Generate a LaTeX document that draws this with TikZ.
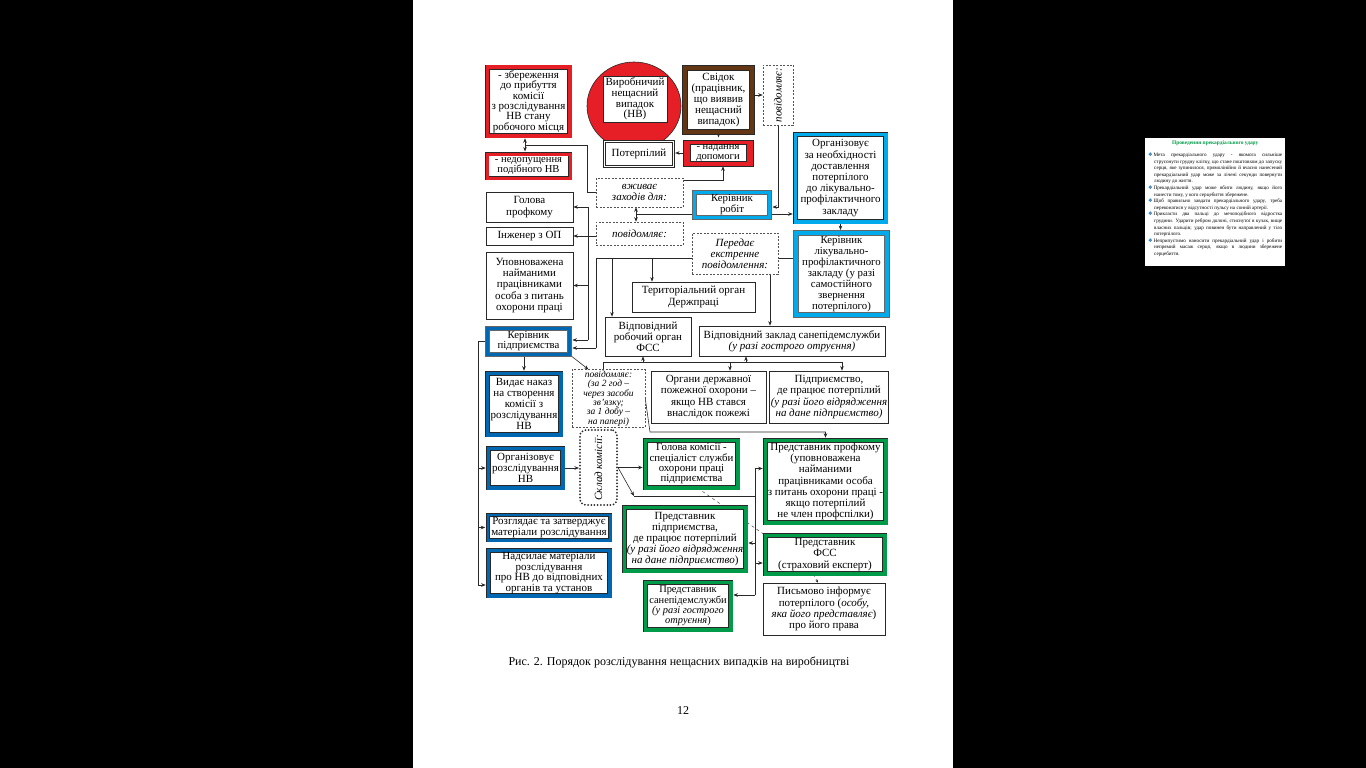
\documentclass[tikz,border=0pt]{standalone}
\usepackage{fontspec}
\setmainfont{Liberation Serif}
\newfontfamily\dejavu{DejaVu Sans}
\usepackage{graphicx}
\usetikzlibrary{arrows.meta,shapes.geometric}
\pgfdeclarelayer{back}
\pgfdeclarelayer{bg}
\pgfsetlayers{back,bg,main}
\definecolor{cred}{RGB}{230,30,37}
\definecolor{cbrown}{RGB}{100,55,20}
\definecolor{ccyan}{RGB}{0,170,235}
\definecolor{cblue}{RGB}{0,103,178}
\definecolor{cgreen}{RGB}{0,155,72}
\definecolor{cline}{RGB}{40,40,40}
\newcommand\boxfont{\fontsize{11}{11.2}\selectfont}
\newcommand\tbul{\par\noindent\hangindent=6pt\hangafter=1{\dejavu\textcolor{cblue}{❖}}\,}
\tikzset{
  box/.style={align=center, inner sep=1pt, font=\boxfont, fill=white},
  plain/.style={box, draw=cline, line width=0.7pt},
  frm/.style={box, draw=cline, line width=0.5pt, double=#1, double distance=3.6pt},
  dashbox/.style={box, draw=cline!80, dash pattern=on 2pt off 1.5pt, line width=0.5pt, font=\boxfont\itshape},
  arr/.style={draw=cline, line width=0.6pt, -{Stealth[length=4.5pt,width=3.5pt]}},
  arrf/.style={arr, shorten >=2.3pt},
  ln/.style={draw=cline, line width=0.6pt},
}
\begin{document}
\begin{tikzpicture}[x=1pt,y=-1pt]
\useasboundingbox (0,0) rectangle (1366,768);
\begin{pgfonlayer}{back}
\fill[black] (0,0) rectangle (1366,768);
\fill[white] (413,0) rectangle (953,768);
\fill[white] (1145,138) rectangle (1285,266);
\end{pgfonlayer}

% ---- top row
\node[frm=cred, minimum width=82.4pt, minimum height=68.4pt, font=\fontsize{11}{10.4}\selectfont] (R1) at (528.5,101.5) {- збереження\\до прибуття\\комісії\\з розслідування\\НВ стану\\робочого місця};
\node[frm=cred, double distance=3pt, minimum width=83pt, minimum height=24pt, font=\fontsize{10.6}{9.8}\selectfont] (R2) at (528.5,166) {- недопущення\\подібного НВ};
\node[ellipse, draw=cline, fill=cred, line width=0.6pt, minimum width=94pt, minimum height=88pt] (NV) at (634,106) {};
\node[plain, minimum width=64pt, minimum height=46pt, font=\fontsize{11}{10.8}\selectfont] (NVin) at (635,99) {Виробничий\\нещасний\\випадок\\(НВ)};
\node[frm=cbrown, line width=0.7pt, double distance=4.2pt, minimum width=67.5pt, minimum height=64.5pt] (Svid) at (718.5,100) {Свідок\\(працівник,\\що виявив\\нещасний\\випадок)};
\node[box, draw=cline, line width=0.6pt, double=white, double distance=1.5pt, minimum width=69pt, minimum height=25pt] (Poterp) at (639,154) {Потерпілий};
\node[draw=cline, fill=cred, line width=0.5pt, minimum width=70pt, minimum height=26pt] (Nadannia) at (718,153) {};
\node[box, draw=cline, line width=0.4pt, inner sep=0.2pt, minimum width=56pt, font=\fontsize{10.6}{9.6}\selectfont] (NadIn) at (718,153) {- надання\\допомоги};
\node[dashbox, minimum width=30pt, minimum height=60pt] (Povid1) at (778,95) {\rotatebox{90}{повідомляє:}};

% ---- right column
\node[frm=ccyan, draw=black!60, line width=0.8pt, double distance=3pt, minimum width=75.4pt, minimum height=25.4pt, font=\fontsize{10.8}{10}\selectfont] (Kerrob) at (732,205) {Керівник\\робіт};
\node[frm=ccyan, minimum width=90.4pt, minimum height=87.4pt] (Org) at (840.5,178) {Організовує\\за необхідності\\доставлення\\потерпілого\\до лікувально-\\профілактичного\\закладу};
\node[frm=ccyan, draw=black!60, line width=1.2pt, minimum width=91pt, minimum height=82pt, font=\fontsize{10.8}{11}\selectfont] (Kerlik) at (841.5,274) {Керівник\\лікувально-\\профілактичного\\закладу (у разі\\самостійного\\звернення\\потерпілого)};

% ---- middle
\node[dashbox, minimum width=87pt, minimum height=29pt] (Vzh) at (639.5,192.5) {вживає\\заходів для:};
\node[dashbox, minimum width=87pt, minimum height=23pt] (Povid2) at (639.5,233.5) {повідомляє:};
\node[dashbox, minimum width=86pt, minimum height=41pt] (Peredaie) at (735,253.5) {Передає\\екстренне\\повідомлення:};

% ---- left column
\node[plain, minimum width=87pt, minimum height=30pt] (Holova) at (529.5,207) {Голова\\профкому};
\node[plain, minimum width=87pt, minimum height=18pt] (Inzh) at (529.5,236) {Інженер з ОП};
\node[plain, minimum width=87pt, minimum height=67pt] (Upovn) at (529.5,285.5) {Уповноважена\\найманими\\працівниками\\особа з питань\\охорони праці};
\node[frm=cblue, draw=black!60, line width=0.8pt, double distance=3pt, minimum width=82.4pt, minimum height=26.4pt, font=\fontsize{10.8}{10}\selectfont] (Kerpid) at (528.5,341.5) {Керівник\\підприємства};
\node[frm=cblue, minimum width=73.4pt, minimum height=61.4pt] (Vydaie) at (524,404) {Видає наказ\\на створення\\комісії з\\розслідування\\НВ};
\node[frm=cblue, minimum width=74.4pt, minimum height=39.4pt] (Orgrozsl) at (525.5,468) {Організовує\\розслідування\\НВ};
\node[frm=cblue, double distance=2.6pt, minimum width=122.4pt, minimum height=25.4pt] (Rozgl) at (549,527.5) {Розглядає та затверджує\\матеріали розслідування};
\node[frm=cblue, minimum width=121.4pt, minimum height=45.4pt, font=\fontsize{11}{10.4}\selectfont] (Nadsyl) at (549,573) {Надсилає матеріали\\розслідування\\про НВ до відповідних\\органів та установ};

% ---- organs
\node[plain, minimum width=123pt, minimum height=30pt] (Terr) at (693.5,297) {Територіальний орган\\Держпраці};
\node[plain, minimum width=86pt, minimum height=39pt] (FSSorg) at (648,336.5) {Відповідний\\робочий орган\\ФСС};
\node[plain, minimum width=186pt, minimum height=30pt] (Sanep) at (792,341) {Відповідний заклад санепідемслужби\\\textit{(у разі гострого отруєння)}};
\node[dashbox, minimum width=73pt, minimum height=57pt, font=\fontsize{9.5}{9.4}\selectfont\itshape] (Povid3) at (608.5,398.5) {повідомляє:\\(за 2 год –\\через засоби\\зв’язку;\\за 1 добу –\\на папері)};
\node[plain, minimum width=115pt, minimum height=52pt] (Orhany) at (708.5,397) {Органи державної\\пожежної охорони –\\якщо НВ стався\\внаслідок пожежі};
\node[plain, minimum width=116pt, minimum height=52pt] (Pidpr) at (829,397) {Підприємство,\\де працює потерпілий\\\textit{(у разі його відрядження}\\\textit{на дане підприємство)}};

% ---- commission
\node[box, draw=cline, line width=2pt, dash pattern=on 0pt off 3.2pt, line cap=round, rounded corners=6pt, minimum width=37pt, minimum height=75pt, font=\boxfont\itshape] (Sklad) at (598.5,467.5) {\rotatebox{90}{Склад комісії:}};
\node[frm=cgreen, minimum width=92.4pt, minimum height=47.4pt, font=\fontsize{10.8}{10.3}\selectfont] (Holkom) at (691.5,464) {Голова комісії -\\спеціаліст служби\\охорони праці\\підприємства};
\node[frm=cgreen, minimum width=120.4pt, minimum height=82.4pt] (Predprof) at (825.5,481.5) {Представник профкому\\(уповноважена\\найманими\\працівниками особа\\з питань охорони праці -\\якщо потерпілий\\не член профспілки)};
\node[frm=cgreen, minimum width=121.4pt, minimum height=63.4pt] (Predpid) at (685,539) {Представник\\підприємства,\\де працює потерпілий\\\textit{(у разі його відрядження}\\\textit{на дане підприємство})};
\node[frm=cgreen, minimum width=119.4pt, minimum height=38.4pt] (PredFSS) at (825,554.5) {Представник\\ФСС\\(страховий експерт)};
\node[frm=cgreen, minimum width=85.4pt, minimum height=47.4pt, font=\fontsize{10.4}{10.3}\selectfont] (Predsan) at (688,606) {Представник\\санепідемслужби\\\textit{(у разі гострого}\\\textit{отруєння})};
\node[plain, minimum width=122pt, minimum height=52pt] (Pysmovo) at (824,609) {Письмово інформує\\потерпілого (\textit{особу,}\\\textit{яка його представляє})\\про його права};

% ---- caption
\node[font=\fontsize{12}{14}\selectfont] (cap) at (679,662) {Рис. 2. Порядок розслідування нещасних випадків на виробництві};
\node[font=\fontsize{12}{14}\selectfont] (pg) at (683,711) {12};

% ---- thumbnail
\node[anchor=north west, text width=134pt, inner sep=0pt, align=justify, font=\fontsize{5.1}{6.6}\selectfont] (thumb) at (1148,141) {{\centering\textcolor{cgreen}{\textbf{\fontsize{5.4}{6}\selectfont Проведення прекардіального удару}}\par}\vspace{5pt}
\tbul Мета прекардіального удару - якомога сильніше струсонути грудну клітку, що стане поштовхом до запуску серця, яке зупинилося, прямолінійно й вчасно нанесений прекардіальний удар може за лічені секунди повернути людину до життя.
\tbul Прекардіальний удар може вбити людину, якщо його нанести тому, у кого серцебиття збережене.
\tbul Щоб правильно завдати прекардіального удару, треба переконатися у відсутності пульсу на сонній артерії.
\tbul Прикласти два пальці до мечоподібного відростка грудини. Ударити ребром долоні, стиснутої в кулак, вище власних пальців; удар повинен бути направлений у тіло потерпілого.
\tbul Неприпустимо наносити прекардіальний удар і робити непрямий масаж серця, якщо в людини збережене серцебиття.\par};

% ---- connectors
\begin{pgfonlayer}{bg}
\coordinate (j1) at (525,145);
\draw[arrf] (j1) -- (j1 |- R1.south);
\draw[arrf] (j1) -- (j1 |- R2.north);
\draw[ln] (j1) -| ([xshift=-8pt]Vzh.west) -- (Vzh.west);
\draw[arrf] (Svid.south) -- (Svid.south |- Nadannia.north);
\draw[arr] (Nadannia.west) -- ([xshift=1.3pt]Nadannia.west -| Poterp.east);
\draw[arr] ([yshift=-3pt]Vzh.north east) -| ([xshift=5pt]Nadannia.south);
\draw[arr] (Svid.east |- Povid1.west) -- (Povid1.west);
\draw[arrf] (Povid1.south) |- ([yshift=-2pt]Kerrob.east);
\draw[arrf] ([yshift=-9pt]Kerrob.east) -- ([yshift=-9pt]Kerrob.east -| Org.west);
\draw[arrf] (Org.south) -- (Org.south |- Kerlik.north);
\coordinate (j2) at (636,214);
\draw[ln] ([yshift=-9pt]Kerrob.west) -- (j2);
\draw[arr] (j2) -- (j2 |- Vzh.south);
\draw[arr] (j2) -- (j2 |- Povid2.north);
\draw[arr] (Povid2.west |- Inzh.east) -- (Inzh.east);
\coordinate (xa) at (588,0);
\coordinate (xb) at (596,0);
\coordinate (xc) at (612,0);
\coordinate (xd) at (652,0);
\coordinate (xe) at (770,0);
\draw[ln] (Holova.east -| xa) -- ([yshift=1.5pt]Kerpid.east -| xa);
\draw[arr] (Holova.east -| xa) -- (Holova.east);
\draw[arr] (Upovn.east -| xa) -- (Upovn.east);
\draw[arrf] ([yshift=1.5pt]Kerpid.east -| xa) -- ([yshift=1.5pt]Kerpid.east);
\coordinate (hb) at ([yshift=-5pt]Peredaie.west);
\draw[ln] (hb) -- (hb -| xb) -- ([yshift=-6.5pt]Kerpid.east -| xb);
\draw[arrf] ([yshift=-6.5pt]Kerpid.east -| xb) -- ([yshift=-6.5pt]Kerpid.east);
\draw[arr] (hb -| xc) -- (FSSorg.north -| xc);
\draw[arr] (hb -| xd) -- (Terr.north -| xd);
\draw[ln] (hb -| Kerlik.west) -- (hb -| Peredaie.east);
\draw[arr] (Peredaie.south -| xe) -- (Sanep.north -| xe);
\draw[arrf] (Kerpid.south -| Vydaie.north) -- (Vydaie.north);
\draw[arr] (Kerpid.south east) -- ([xshift=-20pt]Povid3.north);
\coordinate (hc) at (0,362);
\coordinate (xg) at (842,0);
\coordinate (xh) at (730,0);
\coordinate (xi) at (746,0);
\coordinate (xj) at (643,0);
\draw[ln] ([xshift=-5pt]Povid3.north) |- (hc -| xg);
\draw[arr] (hc -| xg) -- (Pidpr.north -| xg);
\draw[arr] (hc -| xh) -- (Orhany.north -| xh);
\draw[arr] (hc -| xj) -- (FSSorg.south -| xj);
\draw[arr] (hc -| xi) -- (Sanep.south -| xi);
\coordinate (k3) at (650,432);
\draw[arrf] (Povid3.east) -- (k3) -| (Predprof.north);
\coordinate (xl) at (478,0);
\draw[ln] (Kerpid.west) -- (Kerpid.west -| xl) -- ([yshift=-12pt]Nadsyl.west -| xl);
\draw[arrf] (Orgrozsl.west -| xl) -- (Orgrozsl.west);
\draw[arrf] (Rozgl.west -| xl) -- (Rozgl.west);
\draw[arrf] ([yshift=-12pt]Nadsyl.west -| xl) -- ([yshift=-12pt]Nadsyl.west);
\draw[arr] (Orgrozsl.east) -- (Orgrozsl.east -| Sklad.west);
\draw[arrf] (Sklad.east) -- (Sklad.east -| Holkom.west);
\coordinate (k4) at (634,496);
\draw[arr] (Sklad.east) -- (k4);
\coordinate (xv) at (755,0);
\coordinate (p1) at ([yshift=13pt]Predprof.west);
\draw[ln] (k4) -- (k4 -| xv);
\draw[ln] (p1 -| xv) -- ([yshift=11pt]Predsan.east -| xv);
\draw[arrf] (p1 -| xv) -- (p1);
\draw[arrf] ([yshift=-4pt]Predpid.east -| xv) -- ([yshift=-4pt]Predpid.east);
\draw[arrf] ([yshift=-8.5pt]PredFSS.west -| xv) -- ([yshift=-8.5pt]PredFSS.west);
\draw[arrf] ([yshift=11pt]Predsan.east -| xv) -- ([yshift=11pt]Predsan.east);
\draw[ln, dashed, line width=0.4pt] ([xshift=6pt]Holkom.south) -- (PredFSS.north west);
\draw[ln, dashed, line width=0.4pt, -{Stealth[length=3pt,width=2.5pt]}] ([xshift=-12pt]PredFSS.south) -- ([xshift=-6pt]Pysmovo.north);
\end{pgfonlayer}
\end{tikzpicture}
\end{document}
